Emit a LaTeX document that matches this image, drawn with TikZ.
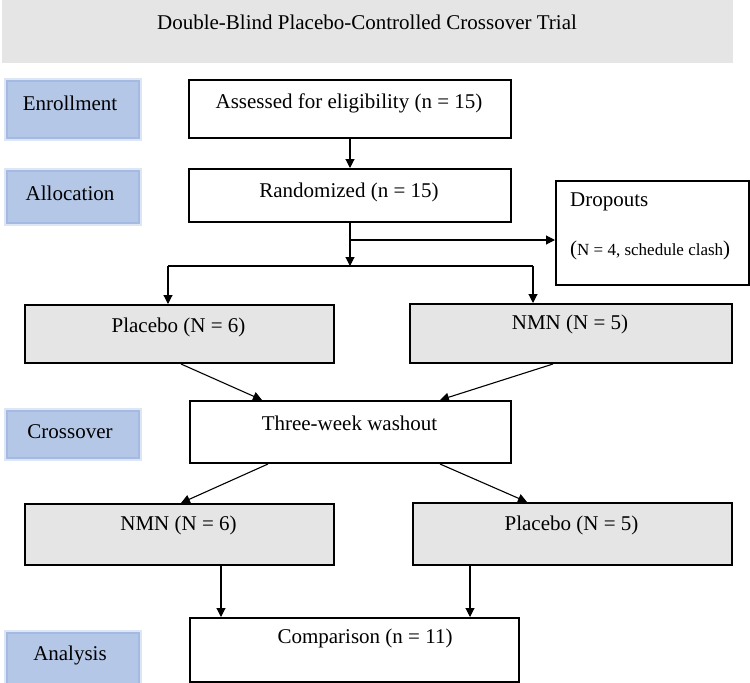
\documentclass[tikz,border=0pt]{standalone}
\usepackage{fontspec}
\setmainfont{Liberation Serif}
\usetikzlibrary{arrows.meta,calc}
\definecolor{bandgray}{HTML}{E5E5E5}
\definecolor{stageblue}{HTML}{B4C7E7}
\definecolor{stageedge}{HTML}{A4BAE2}
\definecolor{stageglow}{HTML}{DDE6F4}
\begin{document}
\begin{tikzpicture}[x=1pt,y=-1pt,
  txt/.style={font=\fontsize{21}{25}\selectfont,inner sep=0pt,anchor=center},
  flowbox/.style={draw=black,line width=2pt,fill=white,inner sep=0pt,anchor=north west},
  armbox/.style={flowbox,fill=bandgray},
  stagebox/.style={fill=stageblue,draw=stageedge,line width=2pt,inner sep=0pt,anchor=north west,
    preaction={draw=stageglow,line width=6pt}},
  link/.style={-{Triangle[length=9pt,width=9pt]},line width=1.1pt},
  plainlink/.style={line width=1.1pt},
]
\useasboundingbox (0,0) rectangle (750,683);

% title band
\node[fill=bandgray,inner sep=0pt,anchor=north west,minimum width=731pt,minimum height=63pt] (band) at (2,0) {};
\node[txt] (title) at (367,22) {Double-Blind Placebo-Controlled Crossover Trial};

% stage labels on the left
\node[stagebox,minimum width=132pt,minimum height=57pt] (enroll) at (6,80) {};
\node[txt] (enrollT) at (70,103) {Enrollment};
\node[stagebox,minimum width=132pt,minimum height=52pt] (alloc) at (6,170) {};
\node[txt] (allocT) at (70,193) {Allocation};
\node[stagebox,minimum width=132pt,minimum height=47pt] (cross) at (6,410) {};
\node[txt] (crossT) at (70,432) {Crossover};
\node[stagebox,minimum width=132pt,minimum height=58pt] (analysis) at (6,632) {};
\node[txt] (analysisT) at (70,655) {Analysis};

% flow boxes
\node[flowbox,minimum width=322pt,minimum height=58pt] (assess) at (188,79) {};
\node[txt] (assessT) at (349,103) {Assessed for eligibility (n = 15)};
\node[flowbox,minimum width=322pt,minimum height=53pt] (rand) at (188,168) {};
\node[txt] (randT) at (349,192) {Randomized (n = 15)};
\node[flowbox,minimum width=193pt,minimum height=104pt] (drop) at (555,180) {};
\node[txt,anchor=west] (dropT) at (570,202) {Dropouts};
\node[anchor=west,inner sep=0pt,font=\fontsize{17}{20}\selectfont] (dropN) at (570,250)
  {{\fontsize{21}{25}\selectfont(}N = 4, schedule clash{\fontsize{21}{25}\selectfont)}};

\node[armbox,minimum width=309pt,minimum height=58pt] (p6) at (24,304) {};
\node[txt] (p6T) at (178.5,327) {Placebo (N = 6)};
\node[armbox,minimum width=322pt,minimum height=59pt] (n5) at (409,303) {};
\node[txt] (n5T) at (570,324) {NMN (N = 5)};

\node[flowbox,minimum width=321pt,minimum height=62pt] (wash) at (189,400) {};
\node[txt] (washT) at (349.5,423) {Three-week washout};

\node[armbox,minimum width=309pt,minimum height=61pt] (n6) at (24,503) {};
\node[txt] (n6T) at (178.5,525) {NMN (N = 6)};
\node[armbox,minimum width=319pt,minimum height=62pt] (p5) at (412,502) {};
\node[txt] (p5T) at (571.5,525) {Placebo (N = 5)};

\node[flowbox,minimum width=329pt,minimum height=64pt] (comp) at (189,617) {};
\node[txt] (compT) at (365,638) {Comparison (n = 11)};

% connectors
\draw[link] (assess.south) -- (rand.north);
\coordinate (split) at (rand.south |- 0,266);
\coordinate (tee) at (rand.south |- 0,240);
\draw[link] (rand.south) -- (split);
\draw[link] (tee) -- (tee -| drop.west);
\coordinate (armL) at (168,266);
\coordinate (armR) at (533,266);
\draw[plainlink] (armL) -- (armR);
\draw[link] (armL) -- (armL |- p6.north);
\draw[link] (armR) -- (armR |- n5.north);

\draw[link] ([xshift=1.5pt]p6.south) -- ([xshift=73pt]wash.north west);
\draw[link] ([xshift=-18pt]n5.south) -- ([xshift=-72pt]wash.north east);
\draw[link] ([xshift=79pt]wash.south west) -- ([xshift=1.5pt]n6.north);
\draw[link] ([xshift=-72pt]wash.south east) -- ([xshift=115pt]p5.north west);

\draw[link] ([xshift=197pt]n6.south west) -- ([xshift=197pt]n6.south west |- comp.north);
\draw[link] ([xshift=58pt]p5.south west) -- ([xshift=58pt]p5.south west |- comp.north);
\end{tikzpicture}
\end{document}
